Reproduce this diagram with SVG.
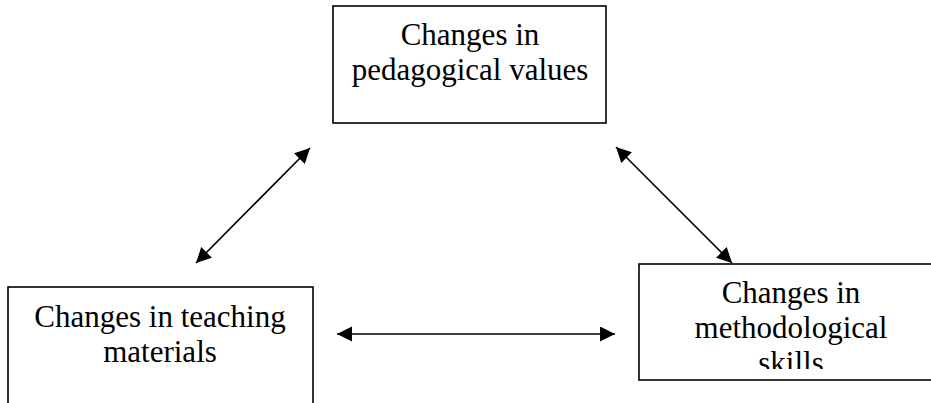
<svg xmlns="http://www.w3.org/2000/svg" width="931" height="403" viewBox="0 0 931 403">
<style>
  .box { fill: #fff; stroke: #000; stroke-width: 1.6; }
  .lbl { font-family: "Liberation Serif", "Times New Roman", serif; font-size: 31px; fill: #000; text-anchor: middle; }
  .conn { stroke: #000; stroke-width: 1.6; fill: none; marker-start: url(#ah); marker-end: url(#ah); }
</style>
<defs>
  <marker id="ah" markerUnits="userSpaceOnUse" markerWidth="16" markerHeight="16" refX="15" refY="7.5" orient="auto-start-reverse" viewBox="0 0 16 16">
    <path d="M0,0 L15,7.5 L0,15 z" fill="#000"/>
  </marker>
  <clipPath id="clipR"><rect x="640" y="265" width="300" height="104"/></clipPath>
</defs>
<g id="node-pedagogical">
  <rect class="box" x="333" y="6" width="273" height="117"/>
  <text class="lbl" x="470" y="45">Changes in</text>
  <text class="lbl" x="470" y="80">pedagogical values</text>
</g>
<g id="node-materials">
  <rect class="box" x="8" y="287" width="305" height="140"/>
  <text class="lbl" x="160" y="327">Changes in teaching</text>
  <text class="lbl" x="160" y="362">materials</text>
</g>
<g id="node-skills">
  <rect class="box" x="639" y="264" width="310" height="116"/>
  <g clip-path="url(#clipR)">
    <text class="lbl" x="791" y="303">Changes in</text>
    <text class="lbl" x="791" y="338">methodological</text>
    <text class="lbl" x="791" y="373">skills</text>
  </g>
</g>
<g id="connectors">
  <line class="conn" x1="196" y1="263" x2="310" y2="148"/>
  <line class="conn" x1="616" y1="147" x2="732" y2="263"/>
  <line class="conn" x1="337" y1="334" x2="615" y2="334"/>
</g>
</svg>
